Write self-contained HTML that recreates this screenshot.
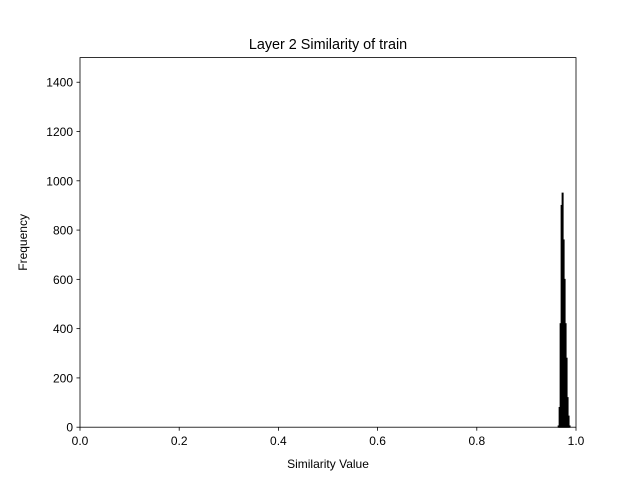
<!DOCTYPE html>
<html><head><meta charset="utf-8"><style>
body{margin:0;background:#fff;font-family:"Liberation Sans","DejaVu Sans",sans-serif}
</style></head><body>
<svg id="chart" width="640" height="480" viewBox="0 0 640 480" xmlns="http://www.w3.org/2000/svg">
<rect width="640" height="480" fill="#fff"/>
<text x="328" y="49" font-size="14.4" text-anchor="middle" fill="#000">Layer 2 Similarity of train</text>
<g id="bars"></g>
<rect x="80" y="57.6" width="496" height="369.6" fill="none" stroke="#000" stroke-width="0.8"/>
<g id="xticks"></g>
<g id="yticks"></g>
<text x="328" y="468" font-size="12" text-anchor="middle">Similarity Value</text>
<text transform="translate(27,242.4) rotate(-90)" font-size="12" text-anchor="middle">Frequency</text>
</svg>
<script>
const binStart = 0.964;
const binWidth = 0.002;
const counts = [5, 80, 420, 900, 950, 760, 600, 420, 280, 120, 45, 5];
const xTicks = [0, 0.2, 0.4, 0.6, 0.8, 1.0];
const xTickLabels = ["0.0","0.2","0.4","0.6","0.8","1.0"];
const yTicks = [0, 200, 400, 600, 800, 1000, 1200, 1400];
const L=80,R=576,T=57.6,B=427.2,YMAX=1500;
const xs=v=>L+v*(R-L);
const ys=v=>B-v/YMAX*(B-T);
const NS="http://www.w3.org/2000/svg";
const bars=document.getElementById('bars');
counts.forEach((c,i)=>{
  const x0=xs(binStart+i*binWidth),x1=xs(binStart+(i+1)*binWidth);
  const r=document.createElementNS(NS,'rect');
  r.setAttribute('x',x0);r.setAttribute('width',Math.max(x1-x0,0.5));
  r.setAttribute('y',ys(c));r.setAttribute('height',B-ys(c));
  r.setAttribute('fill','#000');r.setAttribute('stroke','#000');r.setAttribute('stroke-width','1');
  
  
  bars.appendChild(r);
});
const xg=document.getElementById('xticks');
xTicks.forEach((v,i)=>{
  const l=document.createElementNS(NS,'line');
  l.setAttribute('x1',xs(v));l.setAttribute('x2',xs(v));l.setAttribute('y1',B);l.setAttribute('y2',B+3.5);
  l.setAttribute('stroke','#000');l.setAttribute('stroke-width','0.8');
  
  
  xg.appendChild(l);
  const t=document.createElementNS(NS,'text');
  t.setAttribute('x',xs(v));t.setAttribute('y',B+18);t.setAttribute('font-size','12');t.setAttribute('text-anchor','middle');
  t.textContent=xTickLabels[i];
  
  
  xg.appendChild(t);
});
const yg=document.getElementById('yticks');
yTicks.forEach(v=>{
  const l=document.createElementNS(NS,'line');
  l.setAttribute('x1',L-3.5);l.setAttribute('x2',L);l.setAttribute('y1',ys(v));l.setAttribute('y2',ys(v));
  l.setAttribute('stroke','#000');l.setAttribute('stroke-width','0.8');
  
  
  yg.appendChild(l);
  const t=document.createElementNS(NS,'text');
  t.setAttribute('x',L-7);t.setAttribute('y',ys(v)+4.5);t.setAttribute('font-size','12');t.setAttribute('text-anchor','end');
  t.textContent=v;
  
  
  yg.appendChild(t);
});
</script>
</body></html>
